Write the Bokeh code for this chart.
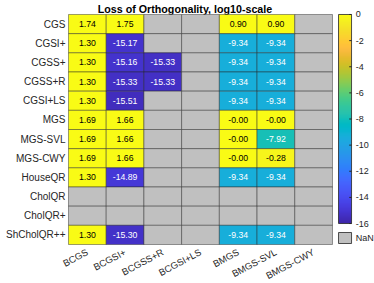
import math
import numpy as np
from bokeh.plotting import figure
from bokeh.models import ColumnDataSource, LinearColorMapper, Range1d
from bokeh.transform import transform
from bokeh.core.properties import value
from bokeh.embed import file_html
from bokeh.resources import INLINE

nan = float("nan")

# ---------------- data ----------------
title_text = "Loss of Orthogonality, log10-scale"
rows = ["CGS", "CGSI+", "CGSS+", "CGSS+R", "CGSI+LS", "MGS", "MGS-SVL",
        "MGS-CWY", "HouseQR", "CholQR", "CholQR+", "ShCholQR++"]
cols = ["BCGS", "BCGSI+", "BCGSS+R", "BCGSI+LS", "BMGS", "BMGS-SVL", "BMGS-CWY"]

bcgs     = [1.74, 1.30, 1.30, 1.30, 1.30, 1.69, 1.69, 1.69, 1.30, nan, nan, 1.30]
bcgsi    = [1.75, -15.17, -15.16, -15.33, -15.51, 1.66, 1.66, 1.66, -14.89, nan, nan, -15.30]
bcgss_r  = [nan, nan, -15.33, -15.33, nan, nan, nan, nan, nan, nan, nan, nan]
bcgsi_ls = [nan, nan, nan, nan, nan, nan, nan, nan, nan, nan, nan, nan]
bmgs     = [0.90, -9.34, -9.34, -9.34, -9.34, -0.00, -0.00, -0.00, -9.34, nan, nan, -9.34]
bmgs_svl = [0.90, -9.34, -9.34, -9.34, -9.34, -0.00, -7.92, -0.28, -9.34, nan, nan, -9.34]
bmgs_cwy = [nan, nan, nan, nan, nan, nan, nan, nan, nan, nan, nan, nan]

columns = [bcgs, bcgsi, bcgss_r, bcgsi_ls, bmgs, bmgs_svl, bmgs_cwy]

cbar_low, cbar_high = -16, 0
cbar_ticks = [0, -2, -4, -6, -8, -10, -12, -14, -16]

# ---------------- colormap (MATLAB parula) ----------------
_parula = [
    (0.2422, 0.1504, 0.6603), (0.2504, 0.1650, 0.7076), (0.2578, 0.1818, 0.7511),
    (0.2647, 0.1978, 0.7952), (0.2706, 0.2147, 0.8364), (0.2751, 0.2342, 0.8710),
    (0.2783, 0.2559, 0.8991), (0.2803, 0.2782, 0.9221), (0.2813, 0.3006, 0.9414),
    (0.2810, 0.3228, 0.9579), (0.2795, 0.3447, 0.9717), (0.2760, 0.3667, 0.9829),
    (0.2699, 0.3892, 0.9906), (0.2602, 0.4123, 0.9952), (0.2440, 0.4358, 0.9988),
    (0.2206, 0.4603, 0.9973), (0.1963, 0.4847, 0.9892), (0.1834, 0.5074, 0.9798),
    (0.1786, 0.5289, 0.9682), (0.1764, 0.5499, 0.9520), (0.1687, 0.5703, 0.9359),
    (0.1540, 0.5902, 0.9218), (0.1460, 0.6091, 0.9079), (0.1380, 0.6276, 0.8973),
    (0.1248, 0.6459, 0.8883), (0.1113, 0.6635, 0.8763), (0.0952, 0.6798, 0.8598),
    (0.0689, 0.6948, 0.8394), (0.0297, 0.7082, 0.8163), (0.0036, 0.7203, 0.7917),
    (0.0067, 0.7312, 0.7660), (0.0433, 0.7411, 0.7394), (0.0964, 0.7500, 0.7120),
    (0.1408, 0.7584, 0.6842), (0.1717, 0.7670, 0.6554), (0.1938, 0.7758, 0.6251),
    (0.2161, 0.7843, 0.5923), (0.2470, 0.7918, 0.5567), (0.2906, 0.7973, 0.5188),
    (0.3406, 0.8008, 0.4789), (0.3909, 0.8029, 0.4354), (0.4456, 0.8024, 0.3909),
    (0.5044, 0.7993, 0.3480), (0.5616, 0.7942, 0.3045), (0.6174, 0.7876, 0.2612),
    (0.6720, 0.7793, 0.2227), (0.7242, 0.7698, 0.1910), (0.7738, 0.7598, 0.1646),
    (0.8203, 0.7498, 0.1535), (0.8634, 0.7406, 0.1596), (0.9035, 0.7330, 0.1774),
    (0.9393, 0.7288, 0.2100), (0.9728, 0.7298, 0.2394), (0.9956, 0.7434, 0.2371),
    (0.9970, 0.7659, 0.2199), (0.9952, 0.7893, 0.2028), (0.9892, 0.8136, 0.1885),
    (0.9786, 0.8386, 0.1766), (0.9676, 0.8639, 0.1643), (0.9610, 0.8890, 0.1537),
    (0.9597, 0.9135, 0.1423), (0.9628, 0.9373, 0.1265), (0.9691, 0.9606, 0.1064),
    (0.9769, 0.9839, 0.0805),
]
_pa = np.array(_parula)
_t = np.linspace(0, 1, len(_pa))
_tt = np.linspace(0, 1, 256)
palette = []
for k in _tt:
    r, g, b = (np.interp(k, _t, _pa[:, c]) for c in range(3))
    palette.append("#%02x%02x%02x" % (int(round(r * 255)), int(round(g * 255)), int(round(b * 255))))

mapper = LinearColorMapper(palette=palette, low=cbar_low, high=cbar_high, nan_color="#c0c0c0")

# ---------------- source ----------------
xs, ys, vs, labels, tcolors = [], [], [], [], []
nrows = len(rows)
for j, colvals in enumerate(columns):
    for i, v in enumerate(colvals):
        xs.append(j)
        ys.append(nrows - 1 - i)
        vs.append(v)
        labels.append("" if math.isnan(v) else f"{v:.2f}")
        tcolors.append("white" if (not math.isnan(v) and v < -3) else "black")
src = ColumnDataSource(dict(x=xs, y=ys, v=vs, label=labels, tc=tcolors))

# ---------------- figure ----------------
FONT = "Liberation Sans"
TXT = "#262626"
p = figure(width=374, height=283, output_backend="svg", toolbar_location=None,
           x_range=Range1d(-2.303, 7.614), y_range=Range1d(-2.534, 12.23),
           x_axis_location=None, y_axis_location=None,
           min_border_left=0, min_border_right=0, min_border_bottom=0, min_border_top=0)
p.title = None
p.outline_line_color = None
p.xgrid.visible = False
p.ygrid.visible = False
p.background_fill_color = "white"
p.border_fill_color = "white"

# title
p.text(x=[2.589], y=[11.776], text=[title_text], text_align="center",
       text_baseline="alphabetic", text_font_size="10.7px", text_font_style="bold",
       text_font=value(FONT), text_color="#000000")

# heatmap cells
p.rect(x="x", y="y", width=1, height=1, source=src,
       fill_color=transform("v", mapper), line_color=TXT, line_alpha=0.45, line_width=1)
p.text(x="x", y="y", text="label", source=src, text_color="tc",
       text_align="center", text_baseline="middle", text_font_size="8.7px",
       text_font=value(FONT))

# row labels
p.text(x=[-0.58] * nrows, y=[nrows - 1 - i for i in range(nrows)], text=rows,
       text_align="right", text_baseline="middle", text_font_size="10px",
       text_font=value(FONT), text_color=TXT)

# column labels (rotated)
p.text(x=list(range(len(cols))), y=[-0.85] * len(cols), text=cols, angle=math.radians(28),
       text_align="right", text_baseline="middle", text_font_size="9.5px",
       text_font=value(FONT), text_color=TXT)

# colorbar (gradient drawn through the same mapper)
cb_x0, cb_x1 = 6.66, 7.005
cb_y0, cb_y1 = 0.595, 11.5
grad = np.linspace(cbar_low, cbar_high, 256).reshape(256, 1)
p.image(image=[grad], x=cb_x0, y=cb_y0, dw=cb_x1 - cb_x0, dh=cb_y1 - cb_y0, color_mapper=mapper)
p.quad(left=[cb_x0], right=[cb_x1], bottom=[cb_y0], top=[cb_y1], fill_color=None,
       line_color=TXT, line_alpha=0.8, line_width=1)
tick_y = [cb_y0 + (t - cbar_low) / (cbar_high - cbar_low) * (cb_y1 - cb_y0) for t in cbar_ticks]
p.segment(x0=[cb_x1 - 0.06] * len(tick_y), x1=[cb_x1] * len(tick_y), y0=tick_y, y1=tick_y,
          line_color=TXT, line_width=1)
p.text(x=[7.115] * len(tick_y), y=tick_y, text=[str(t) for t in cbar_ticks],
       text_align="left", text_baseline="middle", text_font_size="9px",
       text_font=value(FONT), text_color=TXT)
# NaN box
p.quad(left=[cb_x0], right=[cb_x1], bottom=[-0.448], top=[0.126], fill_color="#c0c0c0",
       line_color=TXT, line_alpha=0.8, line_width=1)
p.text(x=[7.115], y=[-0.16], text=["NaN"], text_align="left", text_baseline="middle",
       text_font_size="9px", text_font=value(FONT), text_color=TXT)

open("out.html", "w").write(file_html(p, INLINE))
